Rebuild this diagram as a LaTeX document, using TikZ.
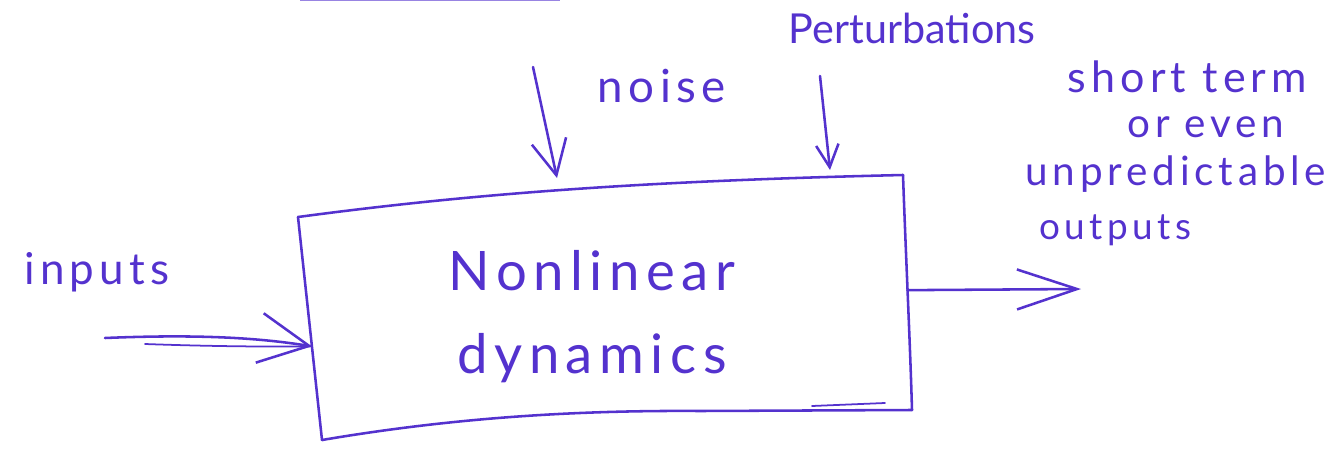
\documentclass[tikz,border=0pt]{standalone}
\usepackage{fontspec}
\newfontfamily\hand[LetterSpace=12]{Lato}
\newfontfamily\handtight{Lato}
\usetikzlibrary{arrows.meta,calc}
\definecolor{ink}{RGB}{84,50,206}
\begin{document}
\begin{tikzpicture}[x=0.02cm,y=-0.02cm,
  pen/.style={draw=ink, line width=1.45pt, line cap=round, line join=round},
  lbl/.style={text=ink, inner sep=0pt},
  barb/.style={-{Straight Barb[length=#1, width=#1, line width=1.45pt]}}]
\useasboundingbox (0,0) rectangle (1343,450);

% stray stroke at the upper edge of the sheet
\draw[ink, line width=0.8pt, opacity=0.6] (300,0.6) -- (560,0.6);

% the system box (hand-drawn quadrilateral)
\coordinate (tl) at (298,217);
\coordinate (tr) at (903,175);
\coordinate (br) at (912,410);
\coordinate (bl) at (322,440);
\draw[pen] (tl) .. controls (470,194) and (640,181) .. (tr);
\draw[pen] (tr) .. controls (906,260) and (910,340) .. (br);
\draw[pen] (bl) .. controls (440,420) and (560,410) .. (700,411) -- (br);
\draw[pen] (tl) -- (bl);
\draw[pen, line width=1pt] (812,406) -- (885,403);

\node[lbl, font=\hand\fontsize{31}{47}\selectfont, align=center, anchor=north]
  (core) at (592,250) {Nonlinear\\dynamics};

% inputs
\node[lbl, font=\hand\fontsize{25}{30}\selectfont] (inputs) at (97,272) {inputs};
\coordinate (in0) at (105,338);
\coordinate (in1) at (145,344);
\coordinate (intip) at ($(tl)!0.58!(bl)$);
\draw[pen, barb=1.0cm] (in0) .. controls (200,334) and (260,338) .. (intip);
\draw[pen, line width=1pt] (in1) .. controls (200,346) and (260,347) .. (intip);

% noise
\node[lbl, font=\hand\fontsize{26}{30}\selectfont] (noise) at (662,86) {noise};
\coordinate (nz0) at (533,67);
\coordinate (nz1) at (557,178);
\draw[pen, barb=0.7cm] (nz0) -- (nz1);

% perturbations
\node[lbl, font=\handtight\fontsize{23.5}{28}\selectfont] (pert) at (912,28) {Perturbations};
\coordinate (pt0) at (820,76);
\coordinate (pt1) at (830,170);
\draw[pen, barb=0.45cm] (pt0) -- (pt1);

% outputs
\coordinate (outsrc) at ($(tr)!0.49!(br)$);
\coordinate (out) at (1081,289);
\draw[pen, -{Straight Barb[length=1.2cm, width=0.8cm, line width=1.45pt]}] (outsrc) -- (out);
\node[lbl, font=\hand\fontsize{23}{25}\selectfont, align=left, anchor=north west]
  (outtxt) at (1025,60)
  {\hspace*{24pt}{\fontsize{24.5}{25}\selectfont short term}\\[1pt]
   \hspace*{58pt}or even\\[2pt]
   unpredictable\\[6pt]
   \hspace*{8pt}{\fontsize{21}{25}\selectfont outputs}};
\end{tikzpicture}
\end{document}
